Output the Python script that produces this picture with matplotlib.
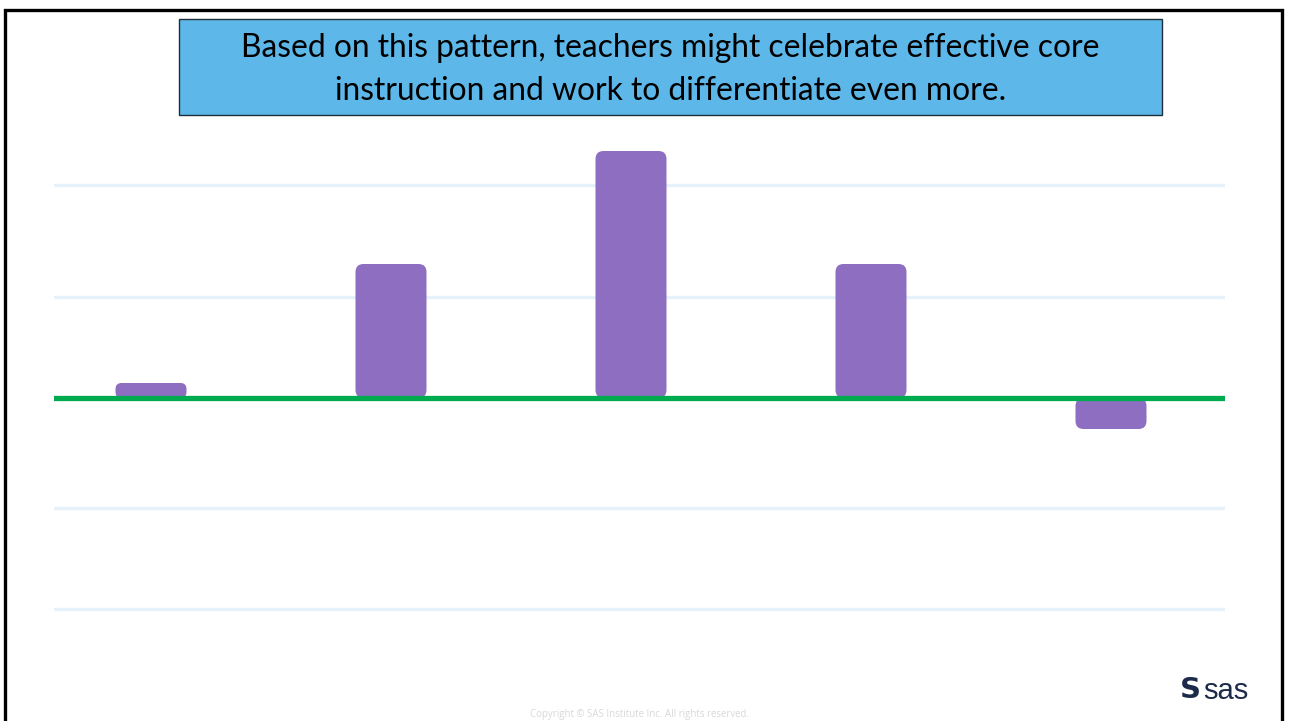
import matplotlib.pyplot as plt
from matplotlib.patches import FancyBboxPatch, Rectangle
from matplotlib.lines import Line2D

# bar values per group (units of one gridline step)
groups = ["A", "B", "C", "D", "E"]
values = [0.15, 1.34, 2.47, 1.34, -0.31]
grid_levels = [2.13, 1.01, -1.10, -2.11]

headline = ("Based on this pattern, teachers might celebrate effective core\n"
            "instruction and work to differentiate even more.")
footer = "Copyright \u00a9 SAS Institute Inc. All rights reserved."

W, H = 1290, 721
fig = plt.figure(figsize=(W / 100, H / 100), dpi=100)
fig.patch.set_facecolor("white")

# plot area in pixels
left, right, top, bottom = 54, 1225, 130, 650
ax = fig.add_axes([left / W, (H - bottom) / H, (right - left) / W, (bottom - top) / H])
spacing = 240.0
ax.set_xlim((left - 151) / spacing, (right - 151) / spacing)
ax.set_ylim((398 - bottom) / 100, (398 - top) / 100)
for s in ax.spines.values():
    s.set_visible(False)
ax.set_xticks([])
ax.set_yticks([])

for g in grid_levels:
    ax.axhline(g, color="#E6F2FA", lw=2.4, zorder=1)

bar_w = 71 / spacing
x_px = 1 / spacing   # data units per pixel, horizontal
y_px = 0.01          # data units per pixel, vertical
for i, v in enumerate(values):
    h_px = abs(v) / y_px
    r_px = min(8, 0.4 * h_px)
    y0 = min(0, v)
    box = FancyBboxPatch((i - bar_w / 2, y0), bar_w, abs(v),
                         boxstyle=f"round,pad=0,rounding_size={r_px * x_px}",
                         mutation_aspect=y_px / x_px,
                         facecolor="#8E6EC1", edgecolor="none", zorder=2)
    ax.add_patch(box)

ax.axhline(0, color="#00AA4F", lw=3.8, zorder=3)

# overlay in pixel coordinates for the slide decorations
ov = fig.add_axes([0, 0, 1, 1], zorder=5)
ov.set_xlim(0, W)
ov.set_ylim(H, 0)
ov.axis("off")
ov.patch.set_alpha(0)

# frame
ov.add_line(Line2D([4.5, 4.5, 1281.5, 1281.5], [H + 5, 9.5, 9.5, H + 5],
                   color="black", lw=2.4, solid_joinstyle="miter"))

# headline box
ov.add_patch(Rectangle((179, 19), 983, 96, facecolor="#5DB7E8",
                       edgecolor="#1C2E3A", lw=1.0))
ov.text(670.5, 69.5, headline, ha="center", va="center", fontsize=22.9,
        family="Lato", color="black", linespacing=1.55)

ov.text(640, 714, footer, ha="center", va="center", fontsize=6.9,
        family="Open Sans", color="#D8D8D8")

# logo
ov.text(1180, 690, "S", ha="left", va="center", fontsize=21,
        family="DejaVu Sans", fontweight="bold", color="#1D2B4A")
ov.text(1203, 691, "sas", ha="left", va="center", fontsize=21,
        family="Liberation Sans", color="#1D2B4A")

fig.savefig("out.png", dpi=100)
